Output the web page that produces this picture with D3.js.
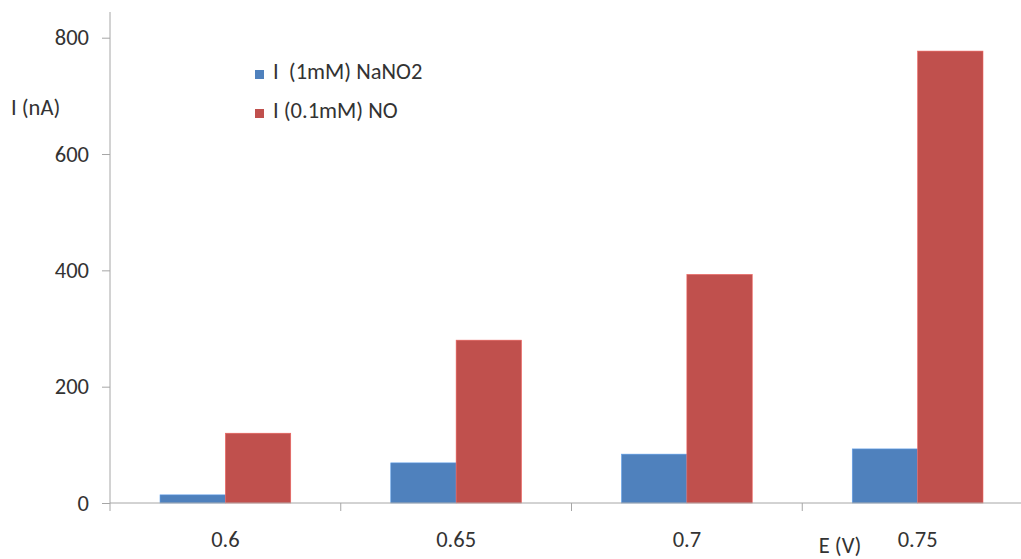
<!DOCTYPE html>
<html><head><meta charset="utf-8">
<script src="https://cdn.jsdelivr.net/npm/d3@7"></script>
<style>body{margin:0;background:#fff}svg{display:block}text{font-family:Carlito,"Open Sans","Liberation Sans",sans-serif;fill:#333}</style>
</head><body><svg id="c" width="1021" height="559"></svg>
<script>
const categories = ["0.6","0.65","0.7","0.75"];
const seriesNames = ["I  (1mM) NaNO2","I (0.1mM) NO"];
const nano2 = [14, 69, 84, 93];
const no = [120, 280, 393, 777];
const yTicks = [0,200,400,600,800];
const colors = ["#4F81BD","#C0504D"];

const FS = "22.5px";
const svg = d3.select("#c");
const x0 = d3.scaleBand().domain(categories).range([110, 1033]).padding(0);
const bw = x0.bandwidth();
const x1 = d3.scaleBand().domain(seriesNames).range([bw*0.2167, bw*0.7833]).padding(0);
const y = d3.scaleLinear().domain([0,800]).range([503,37.7]);
const data = [nano2, no];

// bars
seriesNames.forEach((s,si)=>{
  svg.append("g").selectAll("rect").data(categories).join("rect")
    .attr("x", c=>x0(c)+x1(s))
    .attr("width", x1.bandwidth())
    .attr("y", (c,i)=>y(data[si][i]))
    .attr("height", (c,i)=>y(0)-y(data[si][i]))
    .attr("fill", colors[si])
    .attr("stroke", d3.color(colors[si]).brighter(0.6))
    .attr("stroke-width", 0.6);
});

// y axis
const ya = svg.append("g").attr("transform","translate(110,0)")
  .call(d3.axisLeft(y).tickValues(yTicks).tickSize(8).tickPadding(13).tickSizeOuter(0));
ya.select(".domain").remove();
ya.selectAll("line").attr("stroke","#a6a6a6");
ya.selectAll("text").style("font-size",FS).attr("fill","#333").attr("dy","0.32em");
svg.append("line").attr("x1",110).attr("x2",110).attr("y1",12).attr("y2",503).attr("stroke","#a6a6a6");

// x axis
svg.append("line").attr("x1",110).attr("x2",1021).attr("y1",503).attr("y2",503).attr("stroke","#a6a6a6");
svg.append("g").selectAll("line").data(categories).join("line")
  .attr("x1",c=>x0(c)).attr("x2",c=>x0(c)).attr("y1",503).attr("y2",511).attr("stroke","#a6a6a6");
svg.append("g").selectAll("text").data(categories).join("text")
  .attr("x",c=>x0(c)+bw/2).attr("y",547).attr("text-anchor","middle")
  .style("font-size",FS).text(c=>c);

// axis titles
svg.append("text").attr("x",11).attr("y",115).style("font-size",FS).text("I (nA)");
svg.append("text").attr("x",840).attr("y",553).attr("text-anchor","middle").style("font-size",FS).text("E (V)");

// legend
const lg = svg.append("g");
seriesNames.forEach((s,i)=>{
  lg.append("rect").attr("x",255).attr("y",70+i*39).attr("width",9).attr("height",9).attr("fill",colors[i]);
  lg.append("text").attr("x",273).attr("y",79+i*39).style("font-size",FS).style("white-space","pre").attr("xml:space","preserve").text(s);
});
</script></body></html>
